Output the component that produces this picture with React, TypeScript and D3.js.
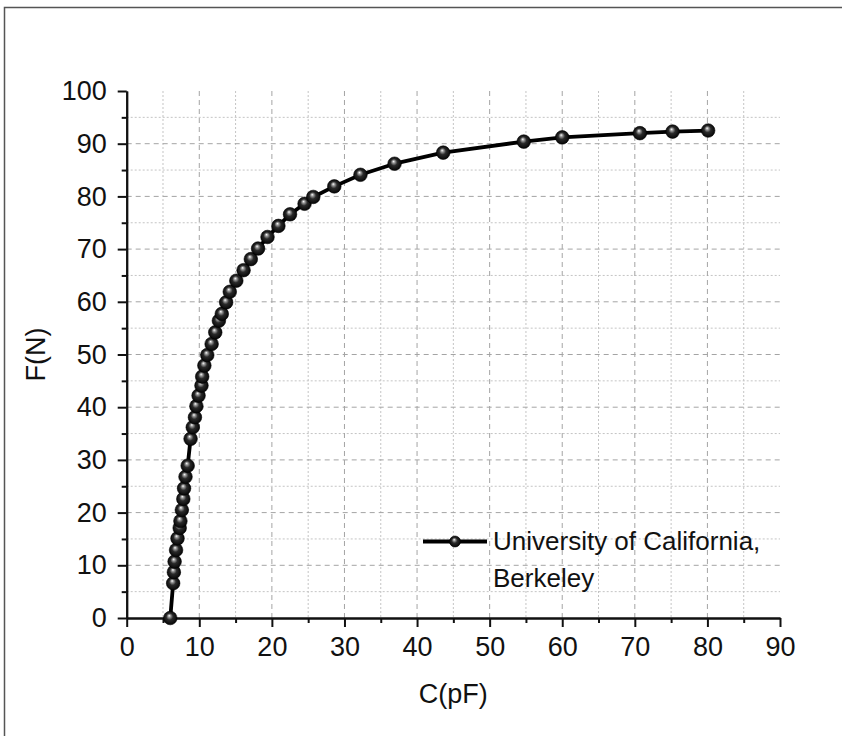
import React, { useEffect, useRef } from "react";
import * as d3 from "d3";

// capacitance (pF) vs force (N)
const capValues = [
  6.0, 6.4, 6.5, 6.6, 6.8, 7.0, 7.3, 7.4, 7.6, 7.8, 7.9, 8.1, 8.4, 8.8, 9.1, 9.4,
  9.6, 9.9, 10.3, 10.4, 10.7, 11.1, 11.7, 12.2, 12.7, 13.1, 13.7, 14.2, 15.1,
  16.1, 17.1, 18.1, 19.4, 20.9, 22.5, 24.5, 25.7, 28.6, 32.2, 36.9, 43.6, 54.7,
  60.0, 70.7, 75.2, 80.1
];
const forceValues = [
  0, 6.6, 8.7, 10.7, 12.9, 15.1, 17.1, 18.4, 20.5, 22.6, 24.6, 26.8, 28.9, 34.0,
  36.2, 38.1, 40.2, 42.2, 44.1, 45.8, 47.9, 49.9, 52.0, 54.2, 56.4, 57.7, 59.9,
  61.9, 64.0, 66.0, 68.1, 70.1, 72.3, 74.4, 76.6, 78.6, 79.9, 81.9, 84.1, 86.2,
  88.3, 90.4, 91.2, 92.0, 92.3, 92.5
];

const xMajorTicks = [0, 10, 20, 30, 40, 50, 60, 70, 80, 90];
const xMinorTicks = [5, 15, 25, 35, 45, 55, 65, 75, 85];
const yMajorTicks = [0, 10, 20, 30, 40, 50, 60, 70, 80, 90, 100];
const yMinorTicks = [5, 15, 25, 35, 45, 55, 65, 75, 85, 95];

const xTitle = "C(pF)";
const yTitle = "F(N)";
const legendLines = ["University of California,", "Berkeley"];

const FONT = "'Liberation Sans', Arial, Helvetica, sans-serif";

export default function App() {
  const svgRef = useRef<SVGSVGElement>(null);

  useEffect(() => {
    const margin = { left: 126.7, top: 91, right: 62, bottom: 118 };
    const W = 842;
    const H = 736;
    const w = W - margin.left - margin.right;
    const h = H - margin.top - margin.bottom;

    const svg = d3.select(svgRef.current);
    svg.selectAll("*").remove();

    // frame around the figure (left and top edges show)
    svg.append("rect")
      .attr("x", 4.5)
      .attr("y", 7.5)
      .attr("width", W + 10)
      .attr("height", H)
      .attr("fill", "none")
      .attr("stroke", "#555")
      .attr("stroke-width", 1.5);

    const defs = svg.append("defs");
    const grad = defs.append("radialGradient")
      .attr("id", "ball")
      .attr("cx", "0.5")
      .attr("cy", "0.5")
      .attr("r", "0.55")
      .attr("fx", "0.42")
      .attr("fy", "0.32");
    grad.append("stop").attr("offset", "0%").attr("stop-color", "#ffffff");
    grad.append("stop").attr("offset", "18%").attr("stop-color", "#9a9a9a");
    grad.append("stop").attr("offset", "45%").attr("stop-color", "#2a2a2a");
    grad.append("stop").attr("offset", "100%").attr("stop-color", "#000000");

    const xScale = d3.scaleLinear().domain([0, 90]).range([0, w]);
    const yScale = d3.scaleLinear().domain([0, 100]).range([h, 0]);

    const g = svg.append("g")
      .attr("transform", `translate(${margin.left}, ${margin.top})`);

    // grid
    const grid = g.append("g");
    grid.selectAll(".vminor")
      .data(xMinorTicks)
      .enter()
      .append("line")
      .attr("x1", d => xScale(d))
      .attr("x2", d => xScale(d))
      .attr("y1", 0)
      .attr("y2", h)
      .attr("stroke", "#c4c4c4")
      .attr("stroke-width", 1)
      .attr("stroke-dasharray", "2,2");
    grid.selectAll(".hminor")
      .data(yMinorTicks)
      .enter()
      .append("line")
      .attr("x1", 0)
      .attr("x2", w)
      .attr("y1", d => yScale(d))
      .attr("y2", d => yScale(d))
      .attr("stroke", "#c4c4c4")
      .attr("stroke-width", 1)
      .attr("stroke-dasharray", "2,2");
    grid.selectAll(".vmajor")
      .data(xMajorTicks.filter(d => d > 0 && d < 90))
      .enter()
      .append("line")
      .attr("x1", d => xScale(d))
      .attr("x2", d => xScale(d))
      .attr("y1", 0)
      .attr("y2", h)
      .attr("stroke", "#a4a4a4")
      .attr("stroke-width", 1)
      .attr("stroke-dasharray", "5,4");
    grid.selectAll(".hmajor")
      .data(yMajorTicks.filter(d => d > 0 && d < 100))
      .enter()
      .append("line")
      .attr("x1", 0)
      .attr("x2", w)
      .attr("y1", d => yScale(d))
      .attr("y2", d => yScale(d))
      .attr("stroke", "#a4a4a4")
      .attr("stroke-width", 1)
      .attr("stroke-dasharray", "5,4");

    // axes
    const xAxis = d3.axisBottom(xScale)
      .tickValues(xMajorTicks)
      .tickSize(9)
      .tickSizeOuter(0)
      .tickPadding(10)
      .tickFormat(d3.format("d"));
    const xMinor = d3.axisBottom(xScale)
      .tickValues(xMinorTicks)
      .tickSize(5)
      .tickSizeOuter(0)
      .tickFormat(() => "");
    const yAxis = d3.axisLeft(yScale)
      .tickValues(yMajorTicks)
      .tickSize(9)
      .tickSizeOuter(0)
      .tickPadding(11)
      .tickFormat(d3.format("d"));
    const yMinor = d3.axisLeft(yScale)
      .tickValues(yMinorTicks)
      .tickSize(5)
      .tickSizeOuter(0)
      .tickFormat(() => "");

    const styleAxis = (sel: any) => {
      sel.select(".domain").attr("stroke", "#111").attr("stroke-width", 2);
      sel.selectAll(".tick line").attr("stroke", "#111").attr("stroke-width", 2);
      sel.selectAll(".tick text")
        .attr("fill", "#111")
        .style("font-family", FONT)
        .style("font-size", "27px");
    };

    g.append("g").attr("transform", `translate(0, ${h})`).call(xMinor).call(styleAxis);
    g.append("g").attr("transform", `translate(0, ${h})`).call(xAxis).call(styleAxis);
    g.append("g").call(yMinor).call(styleAxis);
    g.append("g").call(yAxis).call(styleAxis);

    // axis titles
    svg.append("text")
      .attr("x", margin.left + w / 2)
      .attr("y", 703)
      .attr("text-anchor", "middle")
      .style("font-family", FONT)
      .style("font-size", "27px")
      .attr("fill", "#111")
      .text(xTitle);

    svg.append("text")
      .attr("transform", `translate(45, ${margin.top + h / 2}) rotate(-90)`)
      .attr("text-anchor", "middle")
      .style("font-family", FONT)
      .style("font-size", "27px")
      .attr("fill", "#111")
      .text(yTitle);

    // data line and markers
    const points = capValues.map((c, i) => [c, forceValues[i]] as [number, number]);
    const line = d3.line<[number, number]>()
      .x(d => xScale(d[0]))
      .y(d => yScale(d[1]));

    g.append("path")
      .datum(points)
      .attr("d", line)
      .attr("fill", "none")
      .attr("stroke", "#000")
      .attr("stroke-width", 3.8)
      .attr("stroke-linejoin", "round");

    g.selectAll(".pt")
      .data(points)
      .enter()
      .append("circle")
      .attr("class", "pt")
      .attr("cx", d => xScale(d[0]))
      .attr("cy", d => yScale(d[1]))
      .attr("r", 6.8)
      .attr("fill", "url(#ball)")
      .attr("stroke", "#000")
      .attr("stroke-width", 0.6);

    // legend
    const legend = svg.append("g");
    legend.append("line")
      .attr("x1", 423)
      .attr("x2", 487)
      .attr("y1", 541.5)
      .attr("y2", 541.5)
      .attr("stroke", "#000")
      .attr("stroke-width", 3.8);
    legend.append("circle")
      .attr("cx", 455)
      .attr("cy", 541.5)
      .attr("r", 5.5)
      .attr("fill", "url(#ball)")
      .attr("stroke", "#000")
      .attr("stroke-width", 0.6);
    legend.selectAll(".lt")
      .data(legendLines)
      .enter()
      .append("text")
      .attr("x", 493)
      .attr("y", (d, i) => 550 + i * 37)
      .style("font-family", FONT)
      .style("font-size", "26px")
      .attr("fill", "#111")
      .text(d => d);
  }, []);

  return (
    <svg
      ref={svgRef}
      width={842}
      height={736}
      style={{ position: "absolute", left: 0, top: 0, background: "#fff" }}
    />
  );
}
